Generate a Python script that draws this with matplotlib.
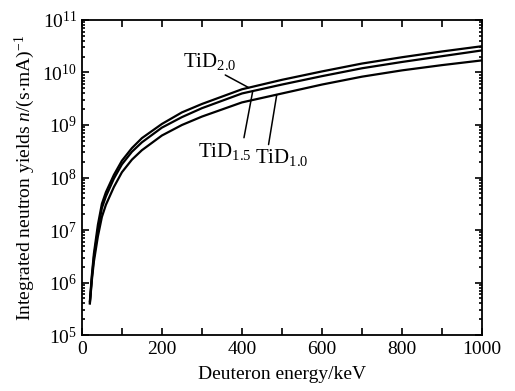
import numpy as np
import matplotlib
matplotlib.use("Agg")
import matplotlib.pyplot as plt
from matplotlib.ticker import FixedLocator, LogLocator, NullFormatter

plt.rcParams['font.family'] = ['Liberation Serif', 'DejaVu Serif']
plt.rcParams['mathtext.fontset'] = 'custom'
plt.rcParams['mathtext.rm'] = 'Liberation Serif'
plt.rcParams['mathtext.it'] = 'Liberation Serif:italic'

# energie deuton (keV)
energy = [20, 25, 30, 40, 50, 60, 80, 100, 125, 150, 200, 250, 300, 400, 500, 600, 700, 800, 900, 1000]
# log10 des rendements
log_tid20 = [5.65, 6.15, 6.55, 7.10, 7.50, 7.72, 8.05, 8.32, 8.56, 8.75, 9.02, 9.24, 9.40, 9.68, 9.86, 10.02, 10.17, 10.29, 10.40, 10.50]
log_tid15 = [5.62, 6.10, 6.48, 7.00, 7.42, 7.64, 7.98, 8.25, 8.49, 8.67, 8.95, 9.15, 9.32, 9.60, 9.77, 9.93, 10.08, 10.20, 10.31, 10.42]
log_tid10 = [5.60, 6.05, 6.40, 6.88, 7.25, 7.48, 7.82, 8.10, 8.34, 8.52, 8.80, 9.00, 9.16, 9.43, 9.60, 9.77, 9.92, 10.04, 10.14, 10.23]
y_decades = [1e5, 1e6, 1e7, 1e8, 1e9, 1e10, 1e11]

E = np.array(energy)
Y20 = 10**np.array(log_tid20)
Y15 = 10**np.array(log_tid15)
Y10 = 10**np.array(log_tid10)

fig = plt.figure(figsize=(5.15, 3.91), dpi=100)
ax = fig.add_axes([0.159, 0.143, 0.777, 0.806])

for Y in (Y20, Y15, Y10):
    ax.plot(E, Y, color='black', lw=1.6)

ax.set_yscale('log')
ax.set_xlim(0, 1000)
ax.set_ylim(1e5, 1e11)

ax.xaxis.set_major_locator(FixedLocator([0, 200, 400, 600, 800, 1000]))
ax.xaxis.set_minor_locator(FixedLocator([100, 300, 500, 700, 900]))
ax.yaxis.set_major_locator(FixedLocator(y_decades))
ax.yaxis.set_minor_locator(LogLocator(base=10, subs=np.arange(2, 10), numticks=20))
ax.yaxis.set_minor_formatter(NullFormatter())

ax.tick_params(which='both', direction='in', top=True, right=True, width=1.2, labelsize=14)
ax.tick_params(which='major', length=5)
ax.tick_params(axis='x', which='minor', length=5)
ax.tick_params(axis='y', which='minor', length=2.5)
ax.tick_params(axis='x', pad=4)
for s in ax.spines.values():
    s.set_linewidth(1.3)

ax.set_xlabel('Deuteron energy/keV', fontsize=14, labelpad=6)
ax.set_ylabel(r'Integrated neutron yields $n$/(s$\cdot$mA)$^{-1}$', fontsize=14, labelpad=4)

# etiquettes
def annot(txt, e_curve, Ycurve, e_txt, y_txt, rel):
    y_pt = 10**np.interp(e_curve, E, np.log10(Ycurve))
    ax.annotate(txt, xy=(e_curve, y_pt), xytext=(e_txt, y_txt),
                ha='left', va='baseline', fontsize=15,
                arrowprops=dict(arrowstyle='-', lw=1.1, color='black',
                                relpos=rel, shrinkA=0, shrinkB=0))

annot(r'TiD$_{2.0}$', 417, Y20, 252, 10**10.10, (0.7, 0.0))
annot(r'TiD$_{1.5}$', 427, Y15, 290, 10**8.40, (0.85, 1.0))
annot(r'TiD$_{1.0}$', 487, Y10, 432, 10**8.27, (0.25, 1.0))

fig.savefig('out.png', dpi=100)
